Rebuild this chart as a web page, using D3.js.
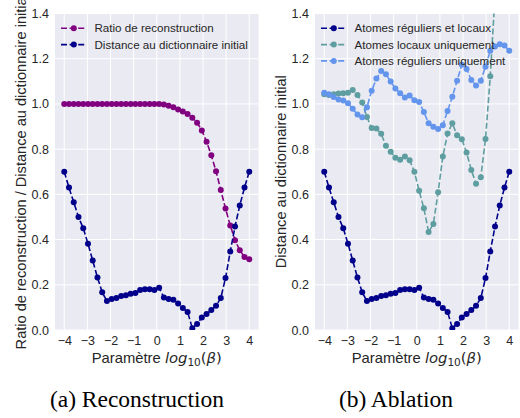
<!DOCTYPE html>
<html>
<head>
<meta charset="utf-8">
<script src="https://cdn.jsdelivr.net/npm/d3@7"></script>
<style>
  body { margin: 0; background: #fff; }
  svg { display: block; }
</style>
</head>
<body>
<div id="chart"></div>
<script>
// beta values (log10), 40 points between -4 and 4
const betas = [-4, -3.795, -3.590, -3.385, -3.179, -2.974, -2.769, -2.564, -2.359, -2.154,
  -1.949, -1.744, -1.538, -1.333, -1.128, -0.923, -0.718, -0.513, -0.308, -0.103,
  0.103, 0.308, 0.513, 0.718, 0.923, 1.128, 1.333, 1.538, 1.744, 1.949,
  2.154, 2.359, 2.564, 2.769, 2.974, 3.179, 3.385, 3.590, 3.795, 4];

const ratioReconstruction = [1, 1, 1, 1, 1, 1, 1, 1, 1, 1,
  1, 1, 1, 1, 1, 1, 1, 1, 1, 1,
  1, 0.998, 0.992, 0.985, 0.975, 0.966, 0.956, 0.939, 0.917, 0.883,
  0.833, 0.773, 0.702, 0.619, 0.537, 0.462, 0.397, 0.353, 0.323, 0.313];

const distanceInit = [0.70, 0.63, 0.565, 0.50, 0.45, 0.382, 0.307, 0.232, 0.167, 0.128,
  0.137, 0.141, 0.15, 0.154, 0.16, 0.164, 0.177, 0.18, 0.18, 0.177,
  0.187, 0.144, 0.137, 0.134, 0.117, 0.097, 0.08, 0.008, 0.027, 0.055,
  0.071, 0.088, 0.107, 0.141, 0.23, 0.347, 0.458, 0.551, 0.63, 0.70];

const localOnly = [1.043, 1.04, 1.043, 1.046, 1.047, 1.049, 1.062, 1.04, 1.006, 0.942,
  0.893, 0.891, 0.868, 0.815, 0.789, 0.762, 0.753, 0.768, 0.751, 0.70,
  0.616, 0.538, 0.434, 0.469, 0.609, 0.767, 0.869, 0.914, 0.861, 0.844,
  0.785, 0.708, 0.647, 0.676, 0.845, 1.122, 1.48, 1.75, 1.95, 2.1];

const regularOnly = [1.049, 1.043, 1.031, 1.02, 1.015, 1.003, 0.979, 0.953, 0.941, 0.985,
  1.058, 1.112, 1.146, 1.131, 1.099, 1.068, 1.047, 1.028, 1.037, 1.016,
  1.009, 0.964, 0.914, 0.899, 0.889, 0.906, 0.969, 1.032, 1.102, 1.173,
  1.155, 1.106, 1.081, 1.103, 1.165, 1.235, 1.254, 1.264, 1.258, 1.235];

const xTicks = [-4, -3, -2, -1, 0, 1, 2, 3, 4];
const yTicks = [0, 0.2, 0.4, 0.6, 0.8, 1.0, 1.2, 1.4];

const width = 520;
const height = 418;
const textColor = '#262626';

const svg = d3.select('#chart')
    .append('svg')
    .attr('width', width)
    .attr('height', height);

svg.append('rect')
    .attr('width', width)
    .attr('height', height)
    .attr('fill', '#fff');

/**
 * draw one seaborn-like panel
 * @param {object} opt - left edge, labels, series and legend position
 */
const drawPanel = (opt) => {
  const left = opt.left;
  const top = 13.5;
  const w = 203.5;
  const h = 316.5;

  const x = d3.scaleLinear().domain([-4.4, 4.4]).range([left, left + w]);
  const y = d3.scaleLinear().domain([0, 1.4]).range([top + h, top]);

  const g = svg.append('g');

  g.append('rect')
      .attr('x', left)
      .attr('y', top)
      .attr('width', w)
      .attr('height', h)
      .attr('fill', '#EAEAF2');

  // grid
  g.selectAll('.vgrid')
      .data(xTicks)
      .join('line')
      .attr('x1', (d) => x(d))
      .attr('x2', (d) => x(d))
      .attr('y1', top)
      .attr('y2', top + h)
      .attr('stroke', '#fff')
      .attr('stroke-width', 1);
  g.selectAll('.hgrid')
      .data(yTicks)
      .join('line')
      .attr('x1', left)
      .attr('x2', left + w)
      .attr('y1', (d) => y(d))
      .attr('y2', (d) => y(d))
      .attr('stroke', '#fff')
      .attr('stroke-width', 1);

  // axes without lines, only labels
  const xAxis = g.append('g')
      .attr('transform', 'translate(0,' + (top + h) + ')')
      .call(d3.axisBottom(x).tickValues(xTicks).tickSize(0).tickPadding(6.5)
          .tickFormat((d) => (d < 0 ? '\u2212' + Math.abs(d) : d)));
  const yAxis = g.append('g')
      .attr('transform', 'translate(' + left + ',0)')
      .call(d3.axisLeft(y).tickValues(yTicks).tickSize(0).tickPadding(6)
          .tickFormat(d3.format('.1f')));
  [xAxis, yAxis].forEach((a) => {
    a.select('.domain').remove();
    a.selectAll('text')
        .attr('fill', textColor)
        .style('font-family', 'Liberation Sans, Arial, sans-serif')
        .style('font-size', '12.5px');
  });

  // axis labels
  const xl = g.append('text')
      .attr('x', left + w / 2)
      .attr('y', 362.5)
      .attr('text-anchor', 'middle')
      .attr('fill', textColor)
      .style('font-family', 'Liberation Sans, Arial, sans-serif')
      .style('font-size', '14.8px');
  xl.append('tspan').text('Paramètre ');
  xl.append('tspan')
      .style('font-family', 'DejaVu Sans')
      .style('font-style', 'italic')
      .text('log');
  xl.append('tspan')
      .style('font-family', 'DejaVu Sans')
      .style('font-size', '10.5px')
      .attr('dy', 3.5)
      .text('10');
  xl.append('tspan')
      .style('font-family', 'DejaVu Sans')
      .attr('dy', -3.5)
      .text('(');
  xl.append('tspan')
      .style('font-family', 'DejaVu Sans')
      .style('font-style', 'italic')
      .text('β');
  xl.append('tspan')
      .style('font-family', 'DejaVu Sans')
      .text(')');

  g.append('text')
      .attr('transform', 'translate(' + opt.yLabelX + ',' + (top + h / 2) + ') rotate(-90)')
      .attr('text-anchor', 'middle')
      .attr('fill', textColor)
      .style('font-family', 'Liberation Sans, Arial, sans-serif')
      .style('font-size', '14.6px')
      .text(opt.yLabel);

  // series, clipped to the axes
  const clipId = 'clip-' + opt.id;
  svg.append('clipPath')
      .attr('id', clipId)
      .append('rect')
      .attr('x', left)
      .attr('y', top)
      .attr('width', w)
      .attr('height', h);

  const plot = g.append('g').attr('clip-path', 'url(#' + clipId + ')');
  const line = d3.line()
      .x((d) => x(d[0]))
      .y((d) => y(d[1]));

  opt.series.forEach((s) => {
    const pts = betas.map((b, i) => [b, s.values[i]]);
    plot.append('path')
        .datum(pts)
        .attr('fill', 'none')
        .attr('stroke', s.color)
        .attr('stroke-width', 1.6)
        .attr('stroke-dasharray', '6,2.6')
        .attr('d', line);
    plot.selectAll(null)
        .data(pts)
        .join('circle')
        .attr('cx', (d) => x(d[0]))
        .attr('cy', (d) => y(d[1]))
        .attr('r', 3)
        .attr('fill', s.color);
  });

  // legend, no frame
  const lg = g.append('g');
  opt.series.forEach((s, i) => {
    const cy = opt.legendY + i * 16.3;
    const lx = left + 6;
    lg.append('line')
        .attr('x1', lx)
        .attr('x2', lx + 25.5)
        .attr('y1', cy)
        .attr('y2', cy)
        .attr('stroke', s.color)
        .attr('stroke-width', 1.6)
        .attr('stroke-dasharray', '6,2.6');
    lg.append('circle')
        .attr('cx', lx + 12.8)
        .attr('cy', cy)
        .attr('r', 3)
        .attr('fill', s.color);
    lg.append('text')
        .attr('x', lx + 33.5)
        .attr('y', cy + 4.1)
        .attr('fill', textColor)
        .style('font-family', 'Liberation Sans, Arial, sans-serif')
        .style('font-size', '11.6px')
        .text(s.name);
  });
};

drawPanel({
  id: 'a',
  left: 55,
  yLabelX: 25.5,
  yLabel: 'Ratio de reconstruction / Distance au dictionnaire initial',
  legendY: 28.3,
  series: [
    {name: 'Ratio de reconstruction', values: ratioReconstruction, color: 'purple'},
    {name: 'Distance au dictionnaire initial', values: distanceInit, color: 'darkblue'},
  ],
});

drawPanel({
  id: 'b',
  left: 315,
  yLabelX: 285.5,
  yLabel: 'Distance au dictionnaire initial',
  legendY: 28.3,
  series: [
    {name: 'Atomes réguliers et locaux', values: distanceInit, color: 'darkblue'},
    {name: 'Atomes locaux uniquement', values: localOnly, color: 'cadetblue'},
    {name: 'Atomes réguliers uniquement', values: regularOnly, color: 'cornflowerblue'},
  ],
});

// sub-figure captions
const captions = [
  {text: '(a) Reconstruction', x: 137},
  {text: '(b) Ablation', x: 396},
];
svg.selectAll('.caption')
    .data(captions)
    .join('text')
    .attr('x', (d) => d.x)
    .attr('y', 406.5)
    .attr('text-anchor', 'middle')
    .attr('fill', '#000')
    .style('font-family', 'Liberation Serif, Times New Roman, serif')
    .style('font-size', '23.5px')
    .text((d) => d.text);
</script>
</body>
</html>
